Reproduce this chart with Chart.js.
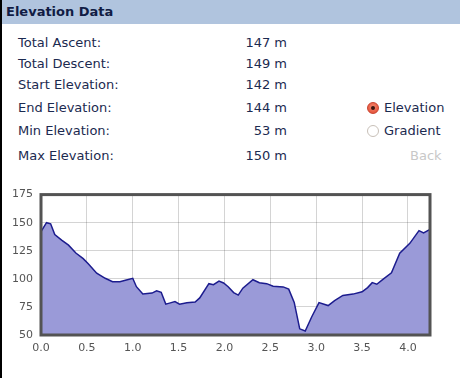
<!DOCTYPE html>
<html lang="en">
<head>
    <meta charset="UTF-8">
    <title>Elevation Data</title>
    <style>
        body {
            margin: 0;
            padding: 0;
            width: 460px;
            height: 378px;
            background: #fff;
            font-family: "DejaVu Sans", Verdana, sans-serif;
            color: #1b2a50;
            position: relative;
            overflow: hidden;
        }
        .edge {
            position: absolute;
            left: 0; top: 0;
            width: 2px; height: 378px;
            background: #000;
        }
        .header {
            position: absolute;
            left: 2px; top: 0;
            width: 458px; height: 24px;
            background: #b0c4de;
            font-weight: bold;
            font-size: 13px;
            line-height: 24px;
            padding-left: 4px;
            box-sizing: border-box;
            color: #111c44;
        }
        .row {
            position: absolute;
            font-size: 13px;
            line-height: 20px;
            white-space: nowrap;
        }
        .label { left: 18px; }
        .value { right: 173px; text-align: right; }
        .radio {
            position: absolute;
            width: 12px; height: 12px;
            border-radius: 50%;
            box-sizing: border-box;
        }
        .radio.on {
            background: radial-gradient(circle at 50% 40%, #f58a72, #e0452c);
            border: 1px solid #c9432f;
        }
        .radio.on::after {
            content: "";
            position: absolute;
            left: 3px; top: 3px;
            width: 4px; height: 4px;
            border-radius: 50%;
            background: #3a1510;
        }
        .radio.off {
            background: #fff;
            border: 1px solid #c8c0b8;
        }
        .back { color: #c8c8c8; }
        #chartBox {
            position: absolute;
            left: 0; top: 180px;
            width: 460px; height: 198px;
        }
    </style>
</head>
<body>
    <div class="edge"></div>
    <div class="header">Elevation Data</div>

    <div class="row label" style="top:33px">Total Ascent:</div>
    <div class="row value" style="top:33px">147 m</div>
    <div class="row label" style="top:54px">Total Descent:</div>
    <div class="row value" style="top:54px">149 m</div>
    <div class="row label" style="top:75px">Start Elevation:</div>
    <div class="row value" style="top:75px">142 m</div>
    <div class="row label" style="top:98px">End Elevation:</div>
    <div class="row value" style="top:98px">144 m</div>
    <div class="row label" style="top:121px">Min Elevation:</div>
    <div class="row value" style="top:121px">53 m</div>
    <div class="row label" style="top:146px">Max Elevation:</div>
    <div class="row value" style="top:146px">150 m</div>

    <div class="radio on" style="left:367px; top:102px"></div>
    <div class="row" style="left:384px; top:98px">Elevation</div>
    <div class="radio off" style="left:367px; top:125px"></div>
    <div class="row" style="left:384px; top:121px">Gradient</div>
    <div class="row back" style="left:410px; top:146px">Back</div>

    <div id="chartBox"><canvas id="elevChart"></canvas></div>

    <script src="https://cdn.jsdelivr.net/npm/chart.js"></script>
    <script>
        // distance along route (km) and elevation (m)
        const distances = [0.0, 0.06, 0.105, 0.15, 0.225, 0.30, 0.38, 0.46, 0.515, 0.607, 0.70, 0.78, 0.86, 0.93, 1.0,
            1.04, 1.11, 1.21, 1.26, 1.31, 1.36, 1.41, 1.46, 1.51, 1.59, 1.68, 1.73, 1.83, 1.88, 1.94, 1.99,
            2.04, 2.10, 2.15, 2.20, 2.31, 2.38, 2.46, 2.53, 2.64, 2.70, 2.76, 2.82, 2.88, 2.95, 3.03,
            3.13, 3.20, 3.29, 3.40, 3.50, 3.56, 3.61, 3.66, 3.73, 3.82, 3.91, 4.02, 4.12, 4.17, 4.24];
        const elevations = [142, 150, 149, 139.5, 134.5, 130, 123, 118, 113.5, 105, 100.5, 97.5, 97.5, 99, 100.5,
            93, 86.5, 87.3, 89.3, 88, 77.5, 78.6, 79.7, 77.4, 78.8, 79.4, 83, 95.7, 94.8, 98, 96.3,
            93, 87.8, 85.5, 91.7, 99.2, 96.6, 95.7, 93.4, 92.8, 90.8, 79, 55.5, 53.5, 66, 78.8,
            76.2, 80.6, 85.2, 86.4, 88.5, 92.2, 96.6, 95.2, 99.8, 105.3, 122.8, 131.6, 142.9, 140.9, 144];
        const xTicks = { min: 0, max: 4.24, step: 0.5 };
        const yTicks = { min: 50, max: 175, step: 25 };

        const points = distances.map((d, i) => ({ x: d, y: elevations[i] }));

        // heavy frame around the plot area
        const frame = {
            id: 'frame',
            afterDraw(chart) {
                const a = chart.chartArea;
                const ctx = chart.ctx;
                ctx.save();
                ctx.strokeStyle = '#535353';
                ctx.lineWidth = 3;
                ctx.strokeRect(a.left, a.top, a.right - a.left, a.bottom - a.top);
                ctx.restore();
            }
        };

        const tickFont = { family: '"DejaVu Sans", Verdana, sans-serif', size: 11 };

        new Chart(document.getElementById('elevChart'), {
            type: 'line',
            data: {
                datasets: [{
                    data: points,
                    borderColor: '#1c1c8e',
                    borderWidth: 1.5,
                    backgroundColor: '#9a9ad8',
                    fill: 'origin',
                    pointRadius: 0,
                    tension: 0
                }]
            },
            options: {
                responsive: true,
                maintainAspectRatio: false,
                animation: false,
                layout: { padding: { top: 12, right: 30, left: 0, bottom: 0 } },
                plugins: { legend: { display: false }, tooltip: { enabled: false } },
                scales: {
                    x: {
                        type: 'linear',
                        min: xTicks.min,
                        max: xTicks.max,
                        z: 1,
                        border: { display: false },
                        grid: { color: 'rgba(0,0,0,0.17)', drawTicks: false },
                        ticks: {
                            stepSize: xTicks.step,
                            includeBounds: false,
                            padding: 7,
                            color: '#555',
                            font: tickFont,
                            maxRotation: 0,
                            callback: v => v.toFixed(1)
                        },
                        afterFit(scale) { scale.height = 43; }
                    },
                    y: {
                        min: yTicks.min,
                        max: yTicks.max,
                        z: 1,
                        border: { display: false },
                        grid: { color: 'rgba(0,0,0,0.17)', drawTicks: false },
                        ticks: {
                            stepSize: yTicks.step,
                            padding: 8,
                            color: '#555',
                            font: tickFont
                        },
                        afterFit(scale) { scale.width = 41; }
                    }
                }
            },
            plugins: [frame]
        });
    </script>
</body>
</html>
